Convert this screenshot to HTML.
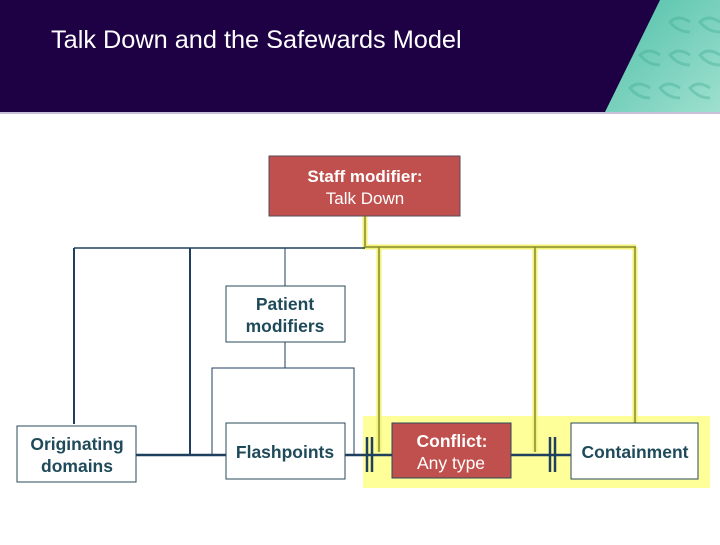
<!DOCTYPE html>
<html><head><style>html,body{margin:0;padding:0;background:#fff}</style></head><body>
<svg width="720" height="540" xmlns="http://www.w3.org/2000/svg" font-family="Liberation Sans, sans-serif">
<defs>
<linearGradient id="tg" x1="0" y1="0" x2="1" y2="1"><stop offset="0" stop-color="#4fc0a8"/><stop offset="1" stop-color="#9fe0cf"/></linearGradient>
</defs>
<rect x="0" y="0" width="720" height="112" fill="#1e0044"/>
<polygon points="660,0 720,0 720,112 605,112" fill="url(#tg)"/>
<g fill="none" stroke="#3aa892" stroke-width="3" opacity="0.35">
<path d="M690,22 q-12,-8 -20,0 q8,10 20,10 M720,22 q-12,-8 -20,0 q8,10 20,10"/>
<path d="M660,55 q-12,-8 -20,0 q8,10 20,10 M690,55 q-12,-8 -20,0 q8,10 20,10 M720,55 q-12,-8 -20,0 q8,10 20,10"/>
<path d="M650,88 q-12,-8 -20,0 q8,10 20,10 M680,88 q-12,-8 -20,0 q8,10 20,10 M710,88 q-12,-8 -20,0 q8,10 20,10"/>
</g>
<text x="51" y="48" font-size="25.3" fill="#fff">Talk Down and the Safewards Model</text>
<rect x="0" y="112" width="720" height="2" fill="#c8c0d8"/>
<rect x="363" y="416" width="347" height="72" fill="#ffff99"/>
<g stroke="#f2f27a" stroke-width="5" fill="none">
<polyline points="365,216 365,247 636,247"/>
<line x1="379" y1="247" x2="379" y2="452"/>
<line x1="535" y1="247" x2="535" y2="452"/>
<line x1="635" y1="247" x2="635" y2="423"/>
</g>
<g stroke="#8a8a2a" stroke-width="1.5" fill="none">
<polyline points="365,216 365,247 636,247"/>
<line x1="379" y1="247" x2="379" y2="452"/>
<line x1="535" y1="247" x2="535" y2="452"/>
<line x1="635" y1="247" x2="635" y2="423"/>
</g>
<g stroke="#1f3f5f" fill="none">
<line x1="74" y1="248" x2="365" y2="248" stroke-width="1.5"/>
<line x1="74" y1="248" x2="74" y2="424" stroke-width="2"/>
<line x1="190" y1="248" x2="190" y2="455" stroke-width="2"/>
<line x1="285" y1="248" x2="285" y2="286" stroke-width="1"/>
<line x1="285" y1="342" x2="285" y2="368" stroke-width="1"/>
<polyline points="212,455 212,368 354,368 354,455" stroke-width="1"/>
<line x1="136" y1="455" x2="226" y2="455" stroke-width="2.5"/>
<line x1="345" y1="455" x2="392" y2="455" stroke-width="2.5"/>
<line x1="511" y1="455" x2="571" y2="455" stroke-width="2.5"/>
<line x1="367" y1="437" x2="367" y2="472" stroke-width="2.5"/>
<line x1="372" y1="437" x2="372" y2="472" stroke-width="2.5"/>
<line x1="550" y1="437" x2="550" y2="472" stroke-width="2.5"/>
<line x1="555" y1="437" x2="555" y2="472" stroke-width="2.5"/>
</g>
<rect x="269" y="156" width="191" height="60" fill="#c0504d" stroke="#5a4a5a" stroke-width="1"/>
<text x="365" y="182" font-size="17" font-weight="bold" fill="#fff" text-anchor="middle">Staff modifier:</text>
<text x="365" y="204" font-size="17" fill="#fff" text-anchor="middle">Talk Down</text>
<g fill="#fff" stroke="#2a4a5a" stroke-width="1">
<rect x="226" y="286" width="119" height="56"/>
<rect x="17" y="426" width="119" height="56"/>
<rect x="226" y="423" width="119" height="56"/>
<rect x="571" y="423" width="127" height="56"/>
</g>
<rect x="392" y="423" width="119" height="55" fill="#c0504d" stroke="#2a4a5a" stroke-width="1"/>
<g font-size="17.5" font-weight="bold" fill="#1f4a5a" text-anchor="middle">
<text x="285" y="310">Patient</text>
<text x="285" y="332">modifiers</text>
<text x="77" y="450">Originating</text>
<text x="77" y="472">domains</text>
<text x="285" y="458">Flashpoints</text>
<text x="635" y="458">Containment</text>
<text x="452" y="447" fill="#fff">Conflict:</text>
</g>
<text x="451" y="469" font-size="17.5" fill="#fff" text-anchor="middle">Any type</text>
</svg>
</body></html>
